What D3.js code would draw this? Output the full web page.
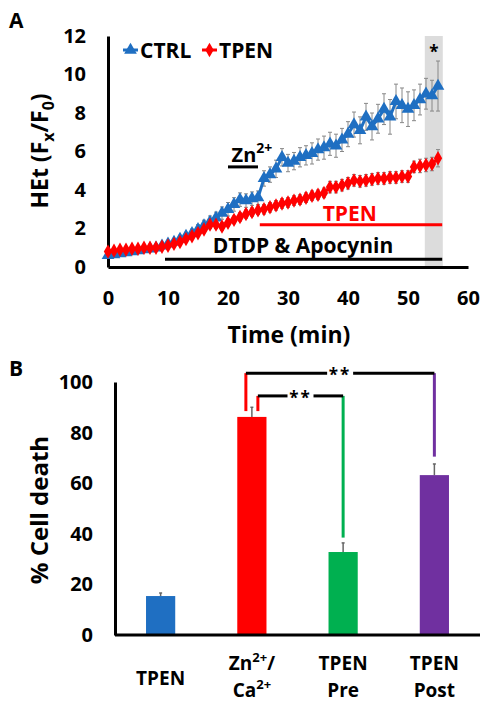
<!DOCTYPE html>
<html><head><meta charset="utf-8">
<script src="https://cdn.jsdelivr.net/npm/d3@7"></script>
<style>
html,body{margin:0;padding:0;background:#fff;}
svg text{font-family:"Open Sans",Lato,sans-serif;font-weight:bold;}
</style></head>
<body>
<script>
// ---------- Panel A data ----------
const timeMin = d3.range(0, 56);
const ctrlValues = [0.6,0.65,0.7,0.75,0.8,0.85,0.9,0.95,1.0,1.1,1.2,1.3,1.45,1.6,1.75,1.95,2.15,2.35,2.55,2.8,3.0,3.25,3.5,3.45,3.55,3.6,4.6,4.8,5.1,5.7,5.4,5.5,5.7,5.8,5.9,6.1,6.2,6.4,6.3,6.6,6.9,7.4,7.1,7.8,7.3,7.7,8.2,7.8,8.6,8.4,8.2,8.4,8.7,9.0,8.9,9.4];
const ctrlErr = [0.12,0.12,0.12,0.12,0.12,0.12,0.15,0.15,0.15,0.15,0.18,0.18,0.2,0.2,0.22,0.25,0.28,0.3,0.3,0.32,0.35,0.35,0.35,0.35,0.35,0.35,0.4,0.4,0.45,0.45,0.45,0.45,0.5,0.5,0.55,0.55,0.6,0.6,0.6,0.6,0.65,0.65,0.7,0.7,0.7,0.75,0.8,0.9,0.9,0.9,0.9,0.8,0.8,0.8,0.8,1.3];
const tpenValues = [0.8,0.85,0.9,0.9,0.95,0.95,1.0,1.0,1.0,1.05,1.1,1.2,1.3,1.45,1.6,1.75,1.95,2.2,2.2,2.1,2.3,2.45,2.6,2.75,2.85,2.95,3.0,3.1,3.2,3.3,3.35,3.45,3.5,3.6,3.7,3.75,3.85,4.15,4.15,4.25,4.35,4.5,4.45,4.5,4.55,4.6,4.6,4.65,4.65,4.7,4.7,5.2,5.25,5.3,5.35,5.65];
const tpenErr = [0.1,0.1,0.1,0.1,0.1,0.1,0.1,0.1,0.1,0.1,0.12,0.12,0.12,0.15,0.15,0.15,0.18,0.2,0.2,0.2,0.2,0.2,0.22,0.22,0.22,0.22,0.25,0.25,0.25,0.25,0.25,0.25,0.25,0.25,0.25,0.25,0.25,0.3,0.3,0.3,0.3,0.3,0.3,0.3,0.3,0.3,0.3,0.3,0.3,0.3,0.3,0.3,0.35,0.35,0.35,0.45];
const xTicksA = [0,10,20,30,40,50,60];
const yTicksA = [0,2,4,6,8,10,12];
const shadeRange = [52.8, 55.8];
const zincBar = [20, 25, 5.2];        // start, end, level
const tpenBar = [25.3, 55.7, 2.2];
const dtdpBar = [9.5, 55.7, 0.4];

// ---------- Panel B data ----------
const categoriesB = [["TPEN"], ["Zn2+/", "Ca2+"], ["TPEN", "Pre"], ["TPEN", "Post"]];
const deathValues = [15.4, 86.2, 32.8, 63.2];
const deathErr = [1.2, 3.8, 3.6, 4.4];
const barColors = ["#1f6fc2", "#ff0000", "#00b050", "#7030a0"];
const yTicksB = [0,20,40,60,80,100];

const svg = d3.select("body").append("svg").attr("width", 492).attr("height", 705);

// ================= Panel A =================
const xA = d3.scaleLinear().domain([0, 60]).range([108, 468]);
const yA = d3.scaleLinear().domain([0, 12]).range([267, 36]);
const gA = svg.append("g");

gA.append("text").attr("x", 9).attr("y", 28).attr("font-size", 21).text("A");

// shaded band
gA.append("rect").attr("x", xA(shadeRange[0])).attr("y", yA(12)).attr("width", xA(shadeRange[1]) - xA(shadeRange[0]))
  .attr("height", yA(0) - yA(12)).attr("fill", "#dcdcdc");
gA.append("text").attr("x", (xA(shadeRange[0]) + xA(shadeRange[1])) / 2).attr("y", 58).attr("text-anchor", "middle")
  .attr("font-size", 17).text("*");

// axes
const axA_x = d3.axisBottom(xA).tickValues(xTicksA).tickSize(0).tickPadding(24);
const gx = gA.append("g").attr("transform", `translate(0,${yA(0)})`).call(axA_x);
gx.select(".domain").attr("stroke", "#000").attr("stroke-width", 3);
gx.selectAll("text").attr("font-size", 20).attr("fill", "#000").attr("font-family", "Open Sans").attr("font-weight", "bold");
const axA_y = d3.axisLeft(yA).tickValues(yTicksA).tickSize(0).tickPadding(22);
const gy = gA.append("g").attr("transform", `translate(${xA(0)},0)`).call(axA_y);
gy.select(".domain").attr("stroke", "#000").attr("stroke-width", 3);
gy.selectAll("text").attr("font-size", 20).attr("fill", "#000").attr("font-family", "Open Sans").attr("font-weight", "bold");

gA.append("text").attr("x", 289).attr("y", 343).attr("text-anchor", "middle").attr("font-size", 23).text("Time (min)");
const yl = gA.append("text").attr("transform", "translate(48,151) rotate(-90)").attr("text-anchor", "middle").attr("font-size", 23);
yl.append("tspan").text("HEt (F");
yl.append("tspan").attr("font-size", 16).attr("dy", 6).text("x");
yl.append("tspan").attr("dy", -6).text("/F");
yl.append("tspan").attr("font-size", 16).attr("dy", 6).text("0");
yl.append("tspan").attr("dy", -6).text(")");

// treatment bars
function hbar(b, color) {
  gA.append("line").attr("x1", xA(b[0])).attr("x2", xA(b[1])).attr("y1", yA(b[2])).attr("y2", yA(b[2]))
    .attr("stroke", color).attr("stroke-width", 3);
}
hbar(zincBar, "#000");
hbar(tpenBar, "#ff0000");
hbar(dtdpBar, "#000");
const zt = gA.append("text").attr("x", xA(20.6)).attr("y", yA(zincBar[2]) - 5).attr("font-size", 20);
zt.append("tspan").text("Zn");
zt.append("tspan").attr("font-size", 14).attr("dy", -9).text("2+");
gA.append("text").attr("x", xA(40.3)).attr("y", yA(tpenBar[2]) - 4).attr("text-anchor", "middle").attr("font-size", 21)
  .attr("fill", "#ff0000").text("TPEN");
gA.append("text").attr("x", xA(32.5)).attr("y", yA(dtdpBar[2]) - 6).attr("text-anchor", "middle").attr("font-size", 21)
  .text("DTDP & Apocynin");

// series
function series(vals, errs, color, symType, size) {
  const pts = timeMin.map((t, i) => ({t, v: vals[i], e: errs[i]}));
  const g = gA.append("g");
  g.selectAll(".eb").data(pts).enter().append("line")
    .attr("x1", d => xA(d.t)).attr("x2", d => xA(d.t))
    .attr("y1", d => yA(d.v - d.e)).attr("y2", d => yA(d.v + d.e))
    .attr("stroke", "#888").attr("stroke-width", 1);
  g.selectAll(".cap").data(pts).enter().append("line")
    .attr("x1", d => xA(d.t) - 2).attr("x2", d => xA(d.t) + 2)
    .attr("y1", d => yA(d.v + d.e)).attr("y2", d => yA(d.v + d.e))
    .attr("stroke", "#888").attr("stroke-width", 1);
  g.selectAll(".capb").data(pts).enter().append("line")
    .attr("x1", d => xA(d.t) - 2).attr("x2", d => xA(d.t) + 2)
    .attr("y1", d => yA(d.v - d.e)).attr("y2", d => yA(d.v - d.e))
    .attr("stroke", "#888").attr("stroke-width", 1);
  g.append("path").datum(pts).attr("fill", "none").attr("stroke", color).attr("stroke-width", 3)
    .attr("d", d3.line().x(d => xA(d.t)).y(d => yA(d.v)));
  g.selectAll(".m").data(pts).enter().append("path")
    .attr("transform", d => `translate(${xA(d.t)},${yA(d.v)})`)
    .attr("d", d3.symbol().type(symType).size(size)).attr("fill", color);
}
series(ctrlValues, ctrlErr, "#1f6fc2", d3.symbolTriangle, 70);
series(tpenValues, tpenErr, "#ff0000", d3.symbolDiamond, 60);

// legend
const legY = 50;
[[123, "CTRL", "#1f6fc2", d3.symbolTriangle, 70], [202, "TPEN", "#ff0000", d3.symbolDiamond, 60]].forEach(l => {
  gA.append("line").attr("x1", l[0]).attr("x2", l[0] + 15).attr("y1", legY).attr("y2", legY).attr("stroke", l[2]).attr("stroke-width", 3);
  gA.append("path").attr("transform", `translate(${l[0] + 7.5},${legY})`).attr("d", d3.symbol().type(l[3]).size(l[4])).attr("fill", l[2]);
  gA.append("text").attr("x", l[0] + 17).attr("y", legY + 8).attr("font-size", 21).text(l[1]);
});

// ================= Panel B =================
const xB = d3.scaleBand().domain(d3.range(categoriesB.length)).range([115, 480]).paddingInner(0.68).paddingOuter(0.34);
const yB = d3.scaleLinear().domain([0, 100]).range([635, 382]);
const gB = svg.append("g");
gB.append("text").attr("x", 9).attr("y", 376).attr("font-size", 21).text("B");

gB.selectAll(".bar").data(deathValues).enter().append("rect")
  .attr("x", (d, i) => xB(i)).attr("width", xB.bandwidth())
  .attr("y", d => yB(d)).attr("height", d => yB(0) - yB(d))
  .attr("fill", (d, i) => barColors[i]);
gB.selectAll(".eb").data(deathValues).enter().append("line")
  .attr("x1", (d, i) => xB(i) + xB.bandwidth() / 2).attr("x2", (d, i) => xB(i) + xB.bandwidth() / 2)
  .attr("y1", d => yB(d)).attr("y2", (d, i) => yB(d + deathErr[i]))
  .attr("stroke", "#666").attr("stroke-width", 1.5);
gB.selectAll(".cap").data(deathValues).enter().append("line")
  .attr("x1", (d, i) => xB(i) + xB.bandwidth() / 2 - 1.5).attr("x2", (d, i) => xB(i) + xB.bandwidth() / 2 + 1.5)
  .attr("y1", (d, i) => yB(d + deathErr[i])).attr("y2", (d, i) => yB(d + deathErr[i]))
  .attr("stroke", "#666").attr("stroke-width", 1.5);

const axB_y = d3.axisLeft(yB).tickValues(yTicksB).tickSize(0).tickPadding(22);
const gyB = gB.append("g").attr("transform", `translate(115,0)`).call(axB_y);
gyB.select(".domain").attr("stroke", "#000").attr("stroke-width", 3);
gyB.selectAll("text").attr("font-size", 20).attr("fill", "#000").attr("font-family", "Open Sans").attr("font-weight", "bold");
gB.append("line").attr("x1", 115).attr("x2", 480).attr("y1", yB(0)).attr("y2", yB(0)).attr("stroke", "#000").attr("stroke-width", 3);

gB.append("text").attr("transform", "translate(48,510) rotate(-90)").attr("text-anchor", "middle").attr("font-size", 24).text("% Cell death");

// category labels with superscripts
categoriesB.forEach((lines, i) => {
  const cx = xB(i) + xB.bandwidth() / 2;
  const y0 = lines.length === 1 ? 685 : 670;
  lines.forEach((ln, j) => {
    const t = gB.append("text").attr("x", cx).attr("y", y0 + j * 27).attr("text-anchor", "middle").attr("font-size", 19);
    const m = ln.match(/^(\w+?)(2\+)(.*)$/);
    if (m) {
      t.append("tspan").text(m[1]);
      t.append("tspan").attr("font-size", 13).attr("dy", -8).text(m[2]);
      t.append("tspan").attr("dy", 8).text(m[3]);
    } else t.text(ln);
  });
});

// significance brackets
function bracket(xl, xr, yTop, yLeftEnd, yRightEnd, colL, colR, gap) {
  gB.append("line").attr("x1", xl).attr("x2", xl).attr("y1", yTop).attr("y2", yLeftEnd).attr("stroke", colL).attr("stroke-width", 3);
  gB.append("line").attr("x1", xr).attr("x2", xr).attr("y1", yTop).attr("y2", yRightEnd).attr("stroke", colR).attr("stroke-width", 3);
  const mid = (xl + xr) / 2;
  gB.append("line").attr("x1", xl).attr("x2", mid - gap).attr("y1", yTop).attr("y2", yTop).attr("stroke", "#000").attr("stroke-width", 3);
  gB.append("line").attr("x1", mid + gap).attr("x2", xr).attr("y1", yTop).attr("y2", yTop).attr("stroke", "#000").attr("stroke-width", 3);
  gB.append("text").attr("x", mid).attr("y", yTop + 8).attr("text-anchor", "middle").attr("font-size", 17).attr("letter-spacing", 2).text("**");
}
const cxB = i => xB(i) + xB.bandwidth() / 2;
bracket(cxB(1) - 6, cxB(3), yB(103.5), yB(88.5), yB(70.5), "#ff0000", "#7030a0", 13);
bracket(cxB(1) + 6, cxB(2), yB(94.5), yB(88.5), yB(38.5), "#ff0000", "#00b050", 13);
</script>
</body></html>
